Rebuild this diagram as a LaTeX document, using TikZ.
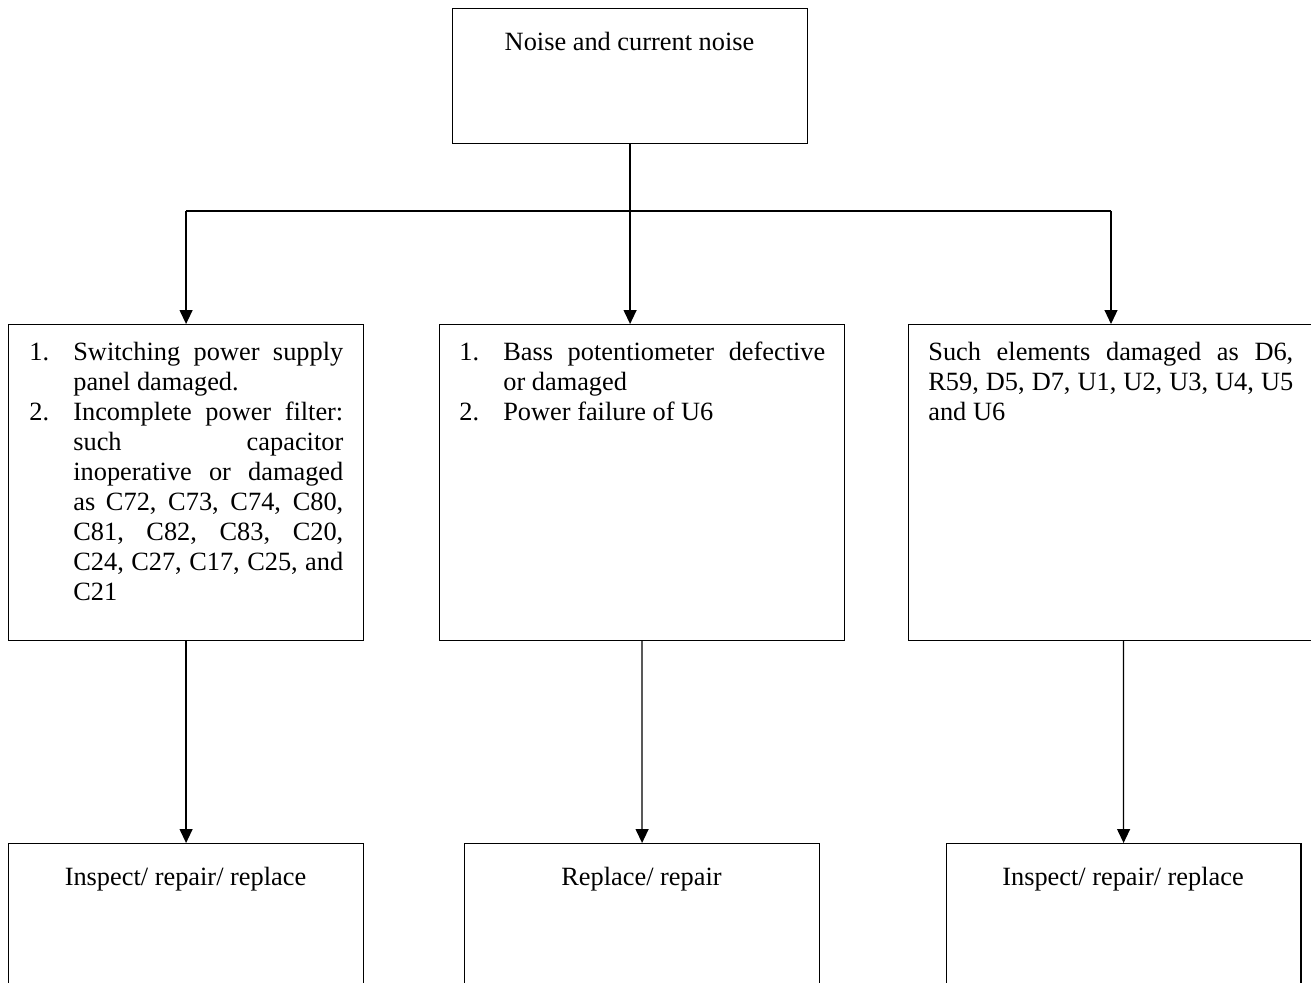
\documentclass[tikz,border=0pt]{standalone}
\usepackage{fontspec}
\setmainfont{Liberation Serif}
\usepackage{tikz}
\usetikzlibrary{arrows.meta,positioning}
% numbered item: number, text width, justified text
\newcommand{\causeitem}[3]{\makebox[0.88cm][l]{#1}\parbox[t]{#2}{\selectfont\tolerance=10000 #3}}

\begin{document}
\begin{tikzpicture}[x=0.02cm,y=-0.02cm,
  boxframe/.style={draw,line width=0.7pt,inner sep=0pt,anchor=north west,minimum width=7.1cm},
  boxtext/.style={inner sep=0pt,font=\fontsize{15pt}{17.1pt}\selectfont},
  itemtext/.style={boxtext,anchor=base west},
  wire/.style={line width=0.7pt},
  arrow/.style={wire,-{Triangle[length=0.28cm,width=0.26cm]}}]
  \useasboundingbox (0,0) rectangle (1311,983);
  \clip (0,0) rectangle (1311,983);
  % fault
  \node[boxframe,minimum height=2.7cm] (fault) at (452,8) {};
  \node[boxtext,anchor=base] (faulttext) at (629.5,51) {Noise and current noise};
  % causes
  \node[boxframe,minimum height=6.32cm] (cause1) at (8,324) {};
  \node[boxframe,minimum height=6.32cm,minimum width=8.1cm] (cause2) at (439,324) {};
  \node[boxframe,minimum height=6.32cm,minimum width=8.6cm] (cause3) at (908,324) {};
  \node[itemtext] (cause1a) at (29,360)
    {\causeitem{1.}{5.4cm}{Switching power supply\linebreak panel damaged.}};
  \node[itemtext] (cause1b) at (29,420)
    {\causeitem{2.}{5.4cm}{Incomplete power filter:\linebreak such capacitor\linebreak
     inoperative or damaged\linebreak as C72, C73, C74, C80,\linebreak C81, C82, C83, C20,\linebreak
     C24, C27, C17, C25, and\linebreak C21}};
  \node[itemtext] (cause2a) at (459,360)
    {\causeitem{1.}{6.44cm}{Bass potentiometer defective\linebreak or damaged}};
  \node[itemtext] (cause2b) at (459,420)
    {\causeitem{2.}{6.44cm}{Power failure of U6}};
  \node[itemtext] (cause3a) at (928,360)
    {\parbox[t]{7.3cm}{\selectfont\tolerance=10000
     Such elements damaged as D6,\linebreak R59, D5, D7, U1, U2, U3, U4, U5\linebreak and U6}};
  % remedies
  \node[boxframe,minimum height=3.4cm] (fix1) at (8,843) {};
  \node[boxframe,minimum height=3.4cm] (fix2) at (464,843) {};
  \node[boxframe,minimum height=3.4cm] (fix3) at (945.5,843) {};
  \node[boxtext,anchor=base] (fix1text) at (185.5,885) {Inspect/ repair/ replace};
  \node[boxtext,anchor=base] (fix2text) at (641.5,885) {Replace/ repair};
  \node[boxtext,anchor=base] (fix3text) at (1123,885) {Inspect/ repair/ replace};
  % connectors
  \coordinate (split) at (629.5,211);
  \coordinate (rightdrop) at (1111,211);
  \draw[arrow] (fault.south) -- (fault.south |- cause2.north);
  \draw[wire] (split -| cause1.north) -- (rightdrop);
  \draw[arrow] (split -| cause1.north) -- (cause1.north);
  \draw[arrow] (rightdrop) -- (rightdrop |- cause3.north);
  \draw[arrow] (cause1.south) -- (fix1.north);
  \draw[arrow] (cause2.south) -- (fix2.north);
  \draw[arrow] (cause3.south) -- (fix3.north);
\end{tikzpicture}
\end{document}
